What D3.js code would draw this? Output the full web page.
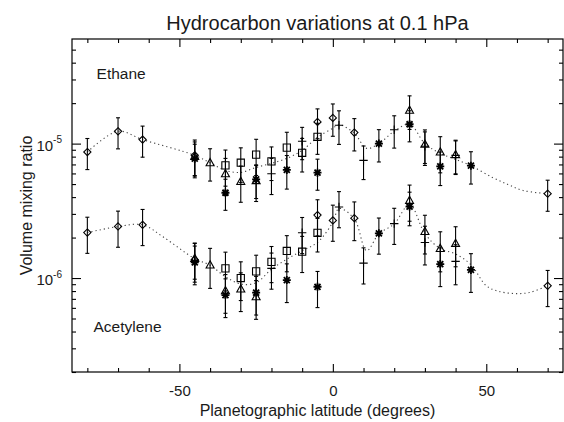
<!DOCTYPE html>
<html>
<head>
<meta charset="utf-8">
<script src="https://cdn.jsdelivr.net/npm/d3@7"></script>
<style>
  body { margin: 0; background: #fff; }
  svg { display: block; }
  text { font-family: "Liberation Sans", Arial, Helvetica, sans-serif; fill: #1a1a1a; }
</style>
</head>
<body>
<svg id="chart" width="564" height="422"></svg>
<script>
// ---- data: latitude (deg) and volume mixing ratio, with fractional 1-sigma errors ----
const latDiamond       = [-80, -70, -62, -45, -5, 0, 7, 70];
const ethaneDiamond    = [8.66e-6, 1.235e-5, 1.071e-5, 8.18e-6, 1.45e-5, 1.553e-5, 1.208e-5, 4.24e-6];
const ethaneDiamondErr = [0.26, 0.26, 0.26, 0.30, 0.25, 0.27, 0.27, 0.26];
const acetDiamond      = [2.18e-6, 2.42e-6, 2.49e-6, 1.37e-6, 2.94e-6, 2.68e-6, 2.79e-6, 8.76e-7];
const acetDiamondErr   = [0.30, 0.30, 0.30, 0.32, 0.30, 0.30, 0.32, 0.30];

const latTriangle       = [-45, -40, -35, -30, -25, 25, 30, 35, 40];
const ethaneTriangle    = [8.04e-6, 7.21e-6, 5.97e-6, 5.23e-6, 5.30e-6, 1.77e-5, 9.88e-6, 8.66e-6, 8.28e-6];
const ethaneTriangleErr = [0.28, 0.27, 0.30, 0.30, 0.30, 0.28, 0.28, 0.30, 0.28];
const acetTriangle      = [1.40e-6, 1.25e-6, 8.04e-7, 8.28e-7, 7.25e-7, 3.78e-6, 2.22e-6, 1.66e-6, 1.81e-6];
const acetTriangleErr   = [0.30, 0.33, 0.32, 0.32, 0.32, 0.30, 0.32, 0.33, 0.33];

const latSquare       = [-35, -30, -25, -20, -15, -10, -5];
const ethaneSquare    = [6.89e-6, 7.21e-6, 8.28e-6, 7.38e-6, 9.34e-6, 8.54e-6, 1.124e-5];
const ethaneSquareErr = [0.30, 0.29, 0.30, 0.28, 0.30, 0.28, 0.26];
const acetSquare      = [1.18e-6, 1.00e-6, 1.12e-6, 1.32e-6, 1.59e-6, 1.57e-6, 2.17e-6];
const acetSquareErr   = [0.32, 0.32, 0.32, 0.30, 0.30, 0.30, 0.28];

const latPlus       = [-20, -10, 2, 10, 20, 30, 40];
const ethanePlus    = [5.97e-6, 1.04e-5, 1.37e-5, 7.50e-6, 1.268e-5, 9.55e-6, 8.18e-6];
const ethanePlusErr = [0.30, 0.27, 0.28, 0.28, 0.27, 0.28, 0.28];
const acetPlus      = [1.18e-6, 2.17e-6, 3.38e-6, 1.29e-6, 2.54e-6, 1.84e-6, 1.33e-6];
const acetPlusErr   = [0.30, 0.30, 0.30, 0.30, 0.30, 0.32, 0.33];

const latStar       = [-45, -35, -25, -15, -5, 15, 25, 35, 45];
const ethaneStar    = [7.73e-6, 4.31e-6, 5.42e-6, 6.37e-6, 6.08e-6, 1.00e-5, 1.393e-5, 6.77e-6, 6.85e-6];
const ethaneStarErr = [0.28, 0.26, 0.28, 0.28, 0.26, 0.27, 0.26, 0.28, 0.27];
const acetStar      = [1.31e-6, 7.47e-7, 7.80e-7, 9.66e-7, 8.61e-7, 2.15e-6, 3.40e-6, 1.27e-6, 1.15e-6];
const acetStarErr   = [0.32, 0.32, 0.32, 0.32, 0.30, 0.30, 0.28, 0.32, 0.32];

// smooth latitudinal fits (dotted curves)
const ethaneFitLat = [-80, -70, -62, -45, -40, -35, -30, -25, -20, -15, -10, -5, 0, 2, 7, 11, 15, 20, 25, 30, 35, 40, 45, 52, 57, 62, 70];
const ethaneFit    = [8.66e-6, 1.235e-5, 1.071e-5, 8.18e-6, 7.19e-6, 6.32e-6, 6.11e-6, 6.65e-6, 7.13e-6, 7.77e-6, 8.91e-6, 1.114e-5, 1.301e-5, 1.381e-5, 1.194e-5, 9.22e-6, 1.0e-5, 1.235e-5, 1.393e-5, 1.0e-5, 8.46e-6, 7.64e-6, 6.85e-6, 5.60e-6, 4.97e-6, 4.48e-6, 4.24e-6];
const acetFitLat   = [-80, -70, -62, -55, -45, -40, -35, -30, -25, -20, -15, -10, -5, 0, 2, 7, 11, 15, 20, 25, 30, 35, 40, 45, 50, 54, 59, 64, 70];
const acetFit      = [2.18e-6, 2.414e-6, 2.486e-6, 2.0e-6, 1.393e-6, 1.246e-6, 1.023e-6, 9.02e-7, 9.22e-7, 1.163e-6, 1.381e-6, 1.599e-6, 1.844e-6, 2.6e-6, 3.29e-6, 2.756e-6, 1.599e-6, 2.13e-6, 2.53e-6, 3.524e-6, 2.141e-6, 1.655e-6, 1.51e-6, 1.257e-6, 8.76e-7, 7.97e-7, 7.67e-7, 7.80e-7, 8.76e-7];

// axis ticks
const xMajorTicks = [-50, 0, 50];
const xTickLabels = ["-50", "0", "50"];
const xMinorTicks = [-80, -70, -60, -40, -30, -20, -10, 10, 20, 30, 40, 60, 70];
const yMajorTicks = [1e-6, 1e-5];
const yTickExponents = ["-6", "-5"];
const yMinorTicks = [2e-7, 3e-7, 4e-7, 5e-7, 6e-7, 7e-7, 8e-7, 9e-7,
                     2e-6, 3e-6, 4e-6, 5e-6, 6e-6, 7e-6, 8e-6, 9e-6,
                     2e-5, 3e-5, 4e-5, 5e-5];

const titleText = "Hydrocarbon variations at 0.1 hPa";
const xTitle = "Planetographic latitude (degrees)";
const yTitle = "Volume mixing ratio";
const speciesLabels = [{ name: "Ethane", lat: -77, value: 3.0e-5 }, { name: "Acetylene", lat: -78, value: 4.0e-7 }];

// ---- layout ----
const svg = d3.select("#chart");
const L = 72, R = 563, T = 39, B = 372;

const x = d3.scaleLinear().domain([-85, 75]).range([L, R]);
const ys = d3.scaleLog().domain([2e-7, 6e-5]).range([B, T]);

const series = [
  { sym: "diamond",  lat: latDiamond,  data: [[ethaneDiamond, ethaneDiamondErr], [acetDiamond, acetDiamondErr]] },
  { sym: "triangle", lat: latTriangle, data: [[ethaneTriangle, ethaneTriangleErr], [acetTriangle, acetTriangleErr]] },
  { sym: "square",   lat: latSquare,   data: [[ethaneSquare, ethaneSquareErr], [acetSquare, acetSquareErr]] },
  { sym: "plus",     lat: latPlus,     data: [[ethanePlus, ethanePlusErr], [acetPlus, acetPlusErr]] },
  { sym: "star",     lat: latStar,     data: [[ethaneStar, ethaneStarErr], [acetStar, acetStarErr]] }
];

// ---- frame ----
svg.append("rect").attr("x", L).attr("y", T).attr("width", R - L).attr("height", B - T)
  .attr("fill", "none").attr("stroke", "#000").attr("stroke-width", 1.2);

// ---- axes (ticks drawn inward on all four sides) ----
function styleAxis(g) {
  g.select(".domain").remove();
  g.selectAll(".tick line").attr("stroke", "#000").attr("stroke-width", 1.1);
  g.selectAll("text").attr("font-size", 15).attr("fill", "#1a1a1a")
    .style("font-family", '"Liberation Sans", Arial, sans-serif');
}
svg.append("g").attr("transform", `translate(0,${B})`)
  .call(d3.axisBottom(x).tickValues(xMinorTicks).tickSize(-4).tickFormat(""))
  .call(styleAxis);
svg.append("g").attr("transform", `translate(0,${B})`)
  .call(d3.axisBottom(x).tickValues(xMajorTicks).tickSize(-8).tickPadding(13)
    .tickFormat((d, i) => xTickLabels[i]))
  .call(styleAxis);
svg.append("g").attr("transform", `translate(0,${T})`)
  .call(d3.axisTop(x).tickValues(xMinorTicks).tickSize(-4).tickFormat(""))
  .call(styleAxis);
svg.append("g").attr("transform", `translate(0,${T})`)
  .call(d3.axisTop(x).tickValues(xMajorTicks).tickSize(-8).tickFormat(""))
  .call(styleAxis);

svg.append("g").attr("transform", `translate(${L},0)`)
  .call(d3.axisLeft(ys).tickValues(yMinorTicks).tickSize(-4).tickFormat(""))
  .call(styleAxis);
const yMajor = svg.append("g").attr("transform", `translate(${L},0)`)
  .call(d3.axisLeft(ys).tickValues(yMajorTicks).tickSize(-9).tickPadding(10).tickFormat(() => "10"))
  .call(styleAxis);
yMajor.selectAll(".tick text").each(function (d, i) {
  const t = d3.select(this);
  t.attr("dy", "0.45em");
  t.append("tspan").attr("dy", "-0.75em").attr("font-size", 10).text(yTickExponents[i]);
});
svg.append("g").attr("transform", `translate(${R},0)`)
  .call(d3.axisRight(ys).tickValues(yMinorTicks).tickSize(-4).tickFormat(""))
  .call(styleAxis);
svg.append("g").attr("transform", `translate(${R},0)`)
  .call(d3.axisRight(ys).tickValues(yMajorTicks).tickSize(-9).tickFormat(""))
  .call(styleAxis);

// ---- titles ----
svg.append("text").attr("x", (L + R) / 2).attr("y", 30).attr("text-anchor", "middle")
  .attr("font-size", 20).text(titleText);
svg.append("text").attr("x", (L + R) / 2).attr("y", 416).attr("text-anchor", "middle")
  .attr("font-size", 16).text(xTitle);
svg.append("text").attr("transform", `translate(32,${(T + B) / 2}) rotate(-90)`)
  .attr("text-anchor", "middle").attr("font-size", 16).text(yTitle);

svg.selectAll(".species").data(speciesLabels).join("text")
  .attr("class", "species")
  .attr("x", d => x(d.lat)).attr("y", d => ys(d.value))
  .attr("font-size", 15.5).text(d => d.name);

// ---- dotted fit curves ----
const fitLine = d3.line().x(d => x(d[0])).y(d => ys(d[1])).curve(d3.curveCatmullRom.alpha(0.5));
[[ethaneFitLat, ethaneFit], [acetFitLat, acetFit]].forEach(([lats, vals]) => {
  svg.append("path")
    .attr("d", fitLine(lats.map((l, i) => [l, vals[i]])))
    .attr("fill", "none").attr("stroke", "#444").attr("stroke-width", 1.1)
    .attr("stroke-dasharray", "1.2,3");
});

// ---- error bars and symbols ----
const symbolPath = {
  diamond:  "M0,-3.6L3.6,0L0,3.6L-3.6,0Z",
  square:   "M-3.6,-3.6H3.6V3.6H-3.6Z",
  triangle: "M0,-4.2L4,3L-4,3Z",
  plus:     "M-4.2,0H4.2M0,-4.2V4.2",
  star:     "M-4,0H4M0,-4V4M-3,-3L3,3M-3,3L3,-3"
};

const points = [];
series.forEach(s => {
  s.data.forEach(([vals, errs]) => {
    s.lat.forEach((lat, i) => points.push({ sym: s.sym, lat, v: vals[i], e: errs[i] }));
  });
});

const bars = svg.append("g").attr("stroke", "#000").attr("stroke-width", 1.1);
points.forEach(p => {
  const px = x(p.lat), y0 = ys(p.v * (1 + p.e)), y1 = ys(p.v * (1 - p.e));
  bars.append("line").attr("x1", px).attr("x2", px).attr("y1", y0).attr("y2", y1);
  bars.append("line").attr("x1", px - 2).attr("x2", px + 2).attr("y1", y0).attr("y2", y0);
  bars.append("line").attr("x1", px - 2).attr("x2", px + 2).attr("y1", y1).attr("y2", y1);
});

svg.append("g").selectAll("path").data(points).join("path")
  .attr("transform", d => `translate(${x(d.lat)},${ys(d.v)})`)
  .attr("d", d => symbolPath[d.sym])
  .attr("fill", "none").attr("stroke", "#000")
  .attr("stroke-width", d => d.sym === "star" ? 1.8 : 1.1);
</script>
</body>
</html>
